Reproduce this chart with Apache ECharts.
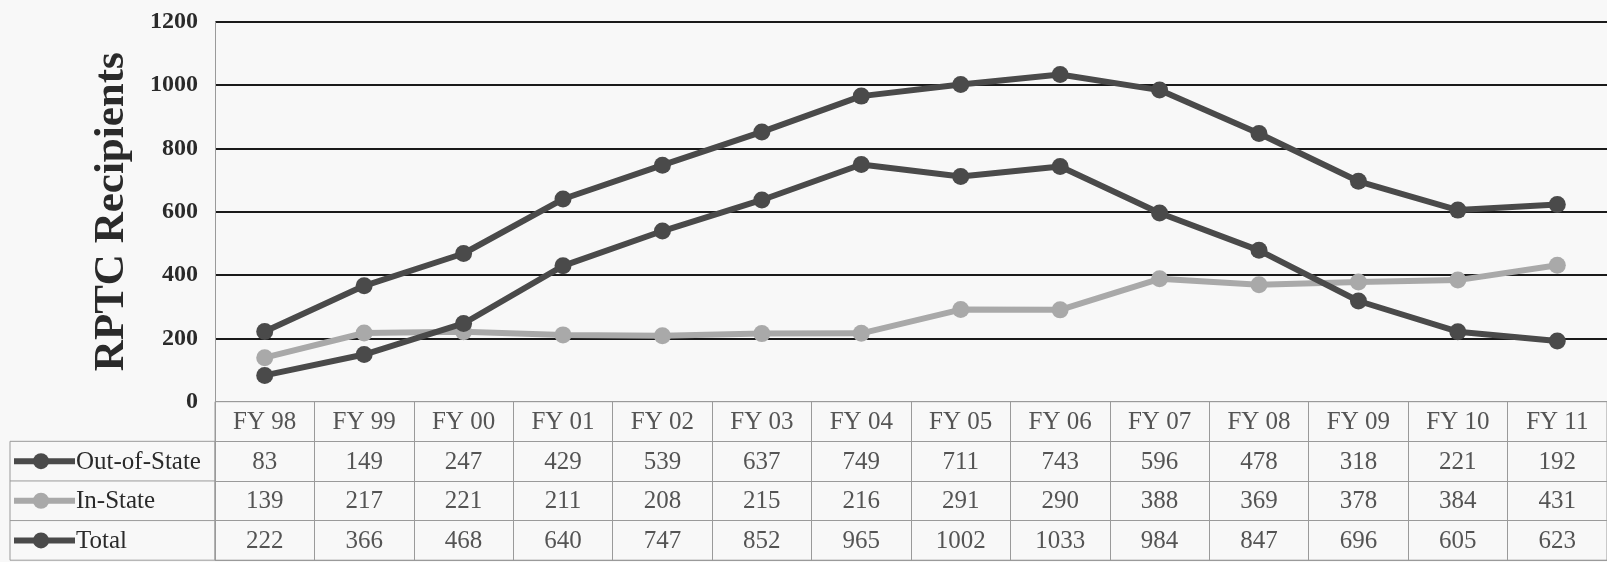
<!DOCTYPE html>
<html><head><meta charset="utf-8">
<script src="https://cdn.jsdelivr.net/npm/echarts@6/dist/echarts.min.js"></script>
<style>html,body{margin:0;padding:0;background:#f8f8f8;}#c{width:1607px;height:562px;}</style>
</head><body><div id="c"></div>
<script>
const categories = ['FY 98','FY 99','FY 00','FY 01','FY 02','FY 03','FY 04','FY 05','FY 06','FY 07','FY 08','FY 09','FY 10','FY 11'];
const seriesNames = ['Out-of-State','In-State','Total'];
const outOfState = [83,149,247,429,539,637,749,711,743,596,478,318,221,192];
const inState = [139,217,221,211,208,215,216,291,290,388,369,378,384,431];
const total = [222,366,468,640,747,852,965,1002,1033,984,847,696,605,623];
const yTicks = [0,200,400,600,800,1000,1200];
const yTitle = 'RPTC Recipients';

const DARK = '#4a4a4a', LIGHT = '#a9a9a9';
const colors = [DARK, LIGHT, DARK];
const values = [outOfState, inState, total];
const SERIF = "'Liberation Serif','Times New Roman',serif";

const L = 215, W = 1395, TOP = 21.7, PB = 401.7, TB = 560.2;
const rowH = (TB - PB) / 4;
const FS = 25;

const rowsCats = ['hdr'].concat(seriesNames);
const tableData = [];
categories.forEach((c, i) => {
  tableData.push({value: [i, 0, c]});
  values.forEach((arr, r) => tableData.push({value: [i, r + 1, arr[i]]}));
});

const graphics = [];
const lx0 = 10, lx1 = L;
graphics.push({type:'rect', shape:{x:lx0, y:PB+rowH, width:lx1-lx0, height:3*rowH}, style:{fill:'none', stroke:'#9a9a9a', lineWidth:1}, silent:true});
for (let r = 1; r < 3; r++) {
  graphics.push({type:'line', shape:{x1:lx0, y1:PB+rowH*(r+1), x2:lx1, y2:PB+rowH*(r+1)}, style:{stroke:'#9a9a9a', lineWidth:1}, silent:true});
}
seriesNames.forEach((n, r) => {
  const cy = PB + rowH*(r+1) + rowH/2;
  graphics.push({type:'line', shape:{x1:14, y1:cy, x2:75, y2:cy}, style:{stroke:colors[r], lineWidth:6}, silent:true});
  graphics.push({type:'circle', shape:{cx:41, cy:cy, r:8}, style:{fill:colors[r]}, silent:true});
  graphics.push({type:'text', x:76, y:cy+1, style:{text:n, font:FS+'px '+SERIF, fill:'#2a2a2a', textVerticalAlign:'middle', textAlign:'left'}, silent:true});
});

const option = {
  backgroundColor: '#f8f8f8',
  animation: false,
  grid: [
    {left: L, top: TOP, width: W, height: PB - TOP},
    {left: L, top: PB, width: W, height: TB - PB, show: true, borderColor: '#9a9a9a', borderWidth: 1, backgroundColor: 'transparent'}
  ],
  xAxis: [
    {type:'category', gridIndex:0, data:categories, boundaryGap:true, axisLine:{show:false}, axisTick:{show:false}, axisLabel:{show:false}},
    {type:'category', gridIndex:1, data:categories, boundaryGap:true, axisLine:{show:false}, axisTick:{show:false}, axisLabel:{show:false},
     splitLine:{show:true, interval:0, lineStyle:{color:'#9a9a9a', width:1}}}
  ],
  yAxis: [
    {type:'value', gridIndex:0, min:yTicks[0], max:yTicks[yTicks.length-1], interval:200,
     name: yTitle, nameLocation:'middle', nameGap:82,
     nameTextStyle:{fontFamily:SERIF, fontWeight:'bold', fontSize:43, color:'#2a2a2a'},
     axisLine:{show:true, lineStyle:{color:'#9a9a9a', width:1}}, axisTick:{show:false},
     axisLabel:{margin:17, fontFamily:SERIF, fontWeight:'bold', fontSize:24, color:'#2a2a2a', formatter: v => String(v)},
     splitLine:{show:true, showMinLine:false, lineStyle:{color:'#1a1a1a', width:2}}},
    {type:'category', gridIndex:1, data:rowsCats, inverse:true, axisLine:{show:false}, axisTick:{show:false}, axisLabel:{show:false},
     splitLine:{show:true, interval:0, lineStyle:{color:'#9a9a9a', width:1}}}
  ],
  series: seriesNames.map((n, r) => ({
    name: n, type:'line', xAxisIndex:0, yAxisIndex:0, data: values[r],
    symbol:'circle', symbolSize:17, showAllSymbol:true,
    lineStyle:{color:colors[r], width:6}, itemStyle:{color:colors[r]}, z: r===1 ? 2 : 3
  })).concat([{
    type:'scatter', xAxisIndex:1, yAxisIndex:1, data: tableData, symbolSize:0,
    itemStyle:{color:'transparent'},
    label:{show:true, position:'inside', formatter: p => String(p.value[2]), fontFamily:SERIF, fontSize:FS, color:'#2a2a2a', offset:[0,1]},
    silent:true
  }]),
  graphic: graphics
};
const chart = echarts.init(document.getElementById('c'), null, {renderer:'canvas'});
chart.setOption(option);
</script></body></html>
